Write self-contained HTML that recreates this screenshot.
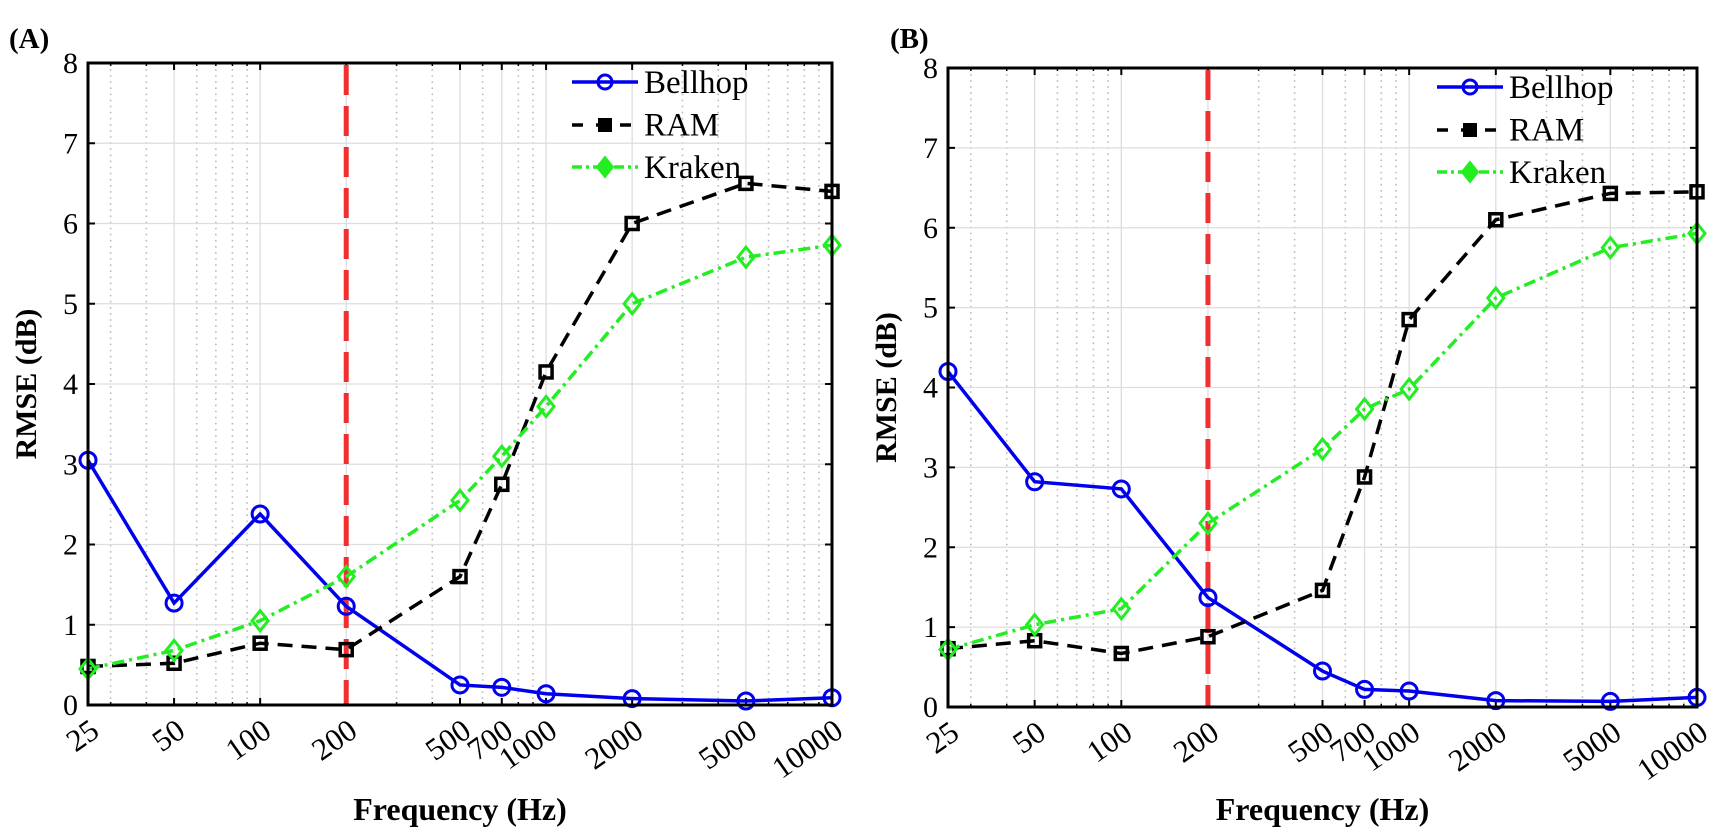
<!DOCTYPE html>
<html><head><meta charset="utf-8"><style>
html,body{margin:0;padding:0;background:#fff;}
svg{display:block;font-family:"Liberation Serif",serif;}
</style></head><body>
<svg id="s" width="1713" height="837" xmlns="http://www.w3.org/2000/svg"></svg>
<script>
const S=document.getElementById('s');let h='';
const fr=[25,50,100,200,500,700,1000,2000,5000,10000];
function panel(L,R,T,B,lab,d){
 const X=f=>L+(Math.log10(f)-Math.log10(25))/(Math.log10(10000)-Math.log10(25))*(R-L);
 const Y=v=>B-v*(B-T)/8;
 const minors=[30,40,60,70,80,90,300,400,600,800,900,3000,4000,6000,7000,8000,9000];
 minors.forEach(f=>{const x=X(f);h+=`<line x1="${x}" y1="${T}" x2="${x}" y2="${B}" stroke="#bbb" stroke-width="1.6" stroke-dasharray="1.6 4.5"/>`;});
 fr.forEach(f=>{const x=X(f);h+=`<line x1="${x}" y1="${T}" x2="${x}" y2="${B}" stroke="#ddd" stroke-width="1.3"/>`;});
 for(let i=1;i<8;i++){const y=Y(i);h+=`<line x1="${L}" y1="${y}" x2="${R}" y2="${y}" stroke="#ddd" stroke-width="1.3"/>`;}
 fr.forEach(f=>{const x=X(f);h+=`<line x1="${x}" y1="${B}" x2="${x}" y2="${B-7}" stroke="#000" stroke-width="2"/><line x1="${x}" y1="${T}" x2="${x}" y2="${T+7}" stroke="#000" stroke-width="2"/>`;
  h+=`<text transform="translate(${x+13},${B+30}) rotate(-35)" text-anchor="end" font-size="31">${f}</text>`;});
 minors.forEach(f=>{const x=X(f);h+=`<line x1="${x}" y1="${B}" x2="${x}" y2="${B-3}" stroke="#000" stroke-width="1.5"/><line x1="${x}" y1="${T}" x2="${x}" y2="${T+3}" stroke="#000" stroke-width="1.5"/>`;});
 for(let i=0;i<=8;i++){const y=Y(i);h+=`<line x1="${L}" y1="${y}" x2="${L+7}" y2="${y}" stroke="#000" stroke-width="2"/><line x1="${R}" y1="${y}" x2="${R-7}" y2="${y}" stroke="#000" stroke-width="2"/>`;
  h+=`<text x="${L-10}" y="${y+10}" text-anchor="end" font-size="30">${i}</text>`;}
 h+=`<line x1="${X(200)}" y1="${T+2}" x2="${X(200)}" y2="${B}" stroke="#f03030" stroke-width="5" stroke-dasharray="30 11"/>`;
 const pts=a=>a.map((v,i)=>X(fr[i])+','+Y(v)).join(' ');
 h+=`<polyline points="${pts(d.b)}" fill="none" stroke="#0000ee" stroke-width="3.5"/>`;
 h+=`<polyline points="${pts(d.r)}" fill="none" stroke="#000" stroke-width="3.5" stroke-dasharray="15 9"/>`;
 h+=`<polyline points="${pts(d.k)}" fill="none" stroke="#22ee22" stroke-width="3.5" stroke-dasharray="12 5 3 5"/>`;
 d.b.forEach((v,i)=>h+=`<circle cx="${X(fr[i])}" cy="${Y(v)}" r="8" fill="none" stroke="#0000ee" stroke-width="3"/>`);
 d.r.forEach((v,i)=>h+=`<rect x="${X(fr[i])-6}" y="${Y(v)-6}" width="12" height="12" fill="none" stroke="#000" stroke-width="3.5"/>`);
 d.k.forEach((v,i)=>{const x=X(fr[i]),y=Y(v);h+=`<polygon points="${x},${y-10} ${x+8},${y} ${x},${y+10} ${x-8},${y}" fill="none" stroke="#22ee22" stroke-width="3"/>`;});
 h+=`<rect x="${L}" y="${T}" width="${R-L}" height="${B-T}" fill="none" stroke="#000" stroke-width="3"/>`;
 const lx=R-260,ly=T+19;
 h+=`<line x1="${lx}" y1="${ly}" x2="${lx+66}" y2="${ly}" stroke="#0000ee" stroke-width="3.5"/><circle cx="${lx+33}" cy="${ly}" r="7" fill="none" stroke="#0000ee" stroke-width="3"/>`;
 h+=`<line x1="${lx}" y1="${ly+43}" x2="${lx+66}" y2="${ly+43}" stroke="#000" stroke-width="3.5" stroke-dasharray="11 13"/><rect x="${lx+27}" y="${ly+37}" width="12" height="12" fill="#000" stroke="#000" stroke-width="2"/>`;
 h+=`<line x1="${lx}" y1="${ly+85}" x2="${lx+66}" y2="${ly+85}" stroke="#22ee22" stroke-width="3.5" stroke-dasharray="10 4 3 4"/><polygon points="${lx+33},${ly+75} ${lx+41},${ly+85} ${lx+33},${ly+95} ${lx+25},${ly+85}" fill="#22ee22" stroke="#22ee22" stroke-width="2"/>`;
 ['Bellhop','RAM','Kraken'].forEach((t,i)=>h+=`<text x="${lx+72}" y="${ly+11+i*42.5}" font-size="33">${t}</text>`);
 h+=`<text transform="translate(${L-52},${(T+B)/2}) rotate(-90)" text-anchor="middle" font-size="30" font-weight="bold">RMSE (dB)</text>`;
 h+=`<text x="${(L+R)/2}" y="820" text-anchor="middle" font-size="32" font-weight="bold">Frequency (Hz)</text>`;
 h+=`<text x="${lab[1]}" y="48" font-size="29" font-weight="bold">${lab[0]}</text>`;
}
panel(88,832,63,705,['(A)',9],{
 b:[3.05,1.27,2.38,1.23,0.25,0.22,0.14,0.08,0.05,0.09],
 r:[0.48,0.52,0.77,0.69,1.6,2.75,4.15,6.0,6.5,6.4],
 k:[0.45,0.68,1.05,1.6,2.55,3.1,3.72,5.0,5.58,5.73]});
panel(948,1697,68,707,['(B)',890],{
 b:[4.2,2.82,2.73,1.37,0.45,0.22,0.2,0.08,0.07,0.12],
 r:[0.73,0.83,0.67,0.88,1.46,2.88,4.85,6.1,6.43,6.45],
 k:[0.72,1.03,1.23,2.3,3.23,3.73,3.98,5.12,5.75,5.93]});
S.innerHTML=h;
</script>
</body></html>
